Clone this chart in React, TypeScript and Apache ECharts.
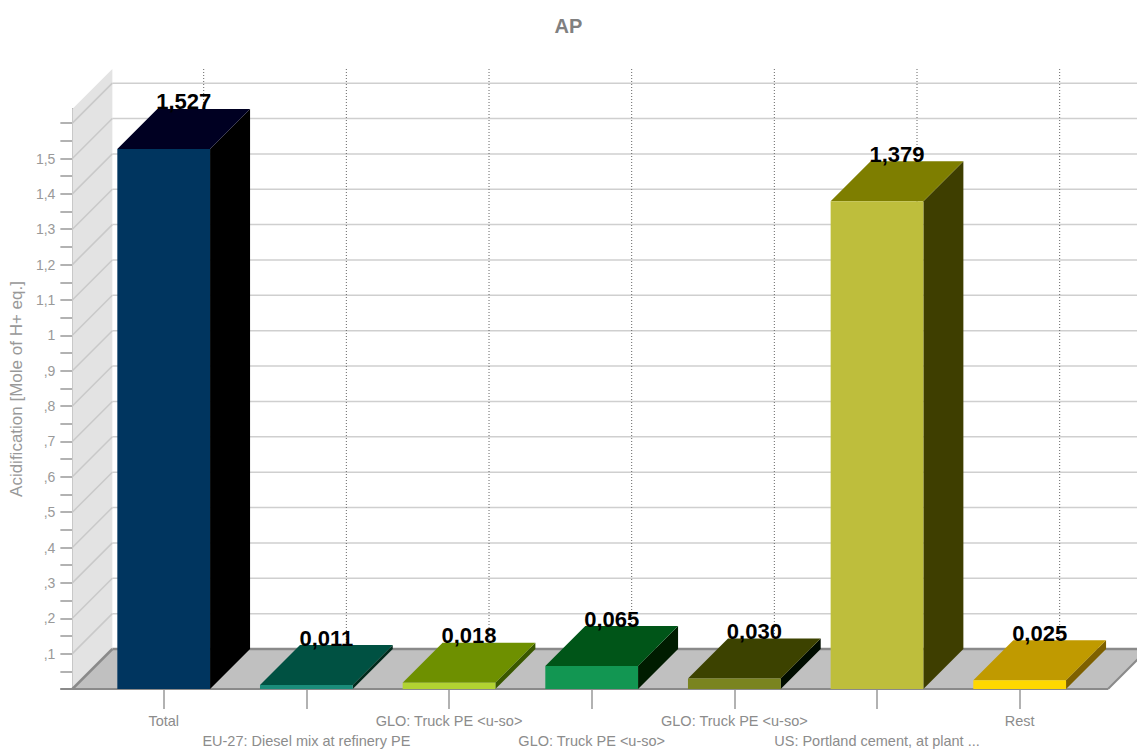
import React, { useEffect, useRef } from "react";
import * as echarts from "echarts";

const titleText = "AP";
const yAxisName = "Acidification [Mole of H+ eq.]";
const categories = [
  "Total",
  "EU-27: Diesel mix at refinery PE",
  "GLO: Truck PE <u-so>",
  "GLO: Truck PE <u-so>",
  "GLO: Truck PE <u-so>",
  "US: Portland cement, at plant ...",
  "Rest",
];
const values = [1.527, 0.011, 0.018, 0.065, 0.03, 1.379, 0.025];
const frontColors = ["#00355f", "#1a8c7a", "#b2d332", "#129652", "#7a8420", "#bebe3c", "#ffd800"];
const topColors = ["#000022", "#005142", "#6e9000", "#005518", "#3c4200", "#7e7e00", "#c09a00"];
const sideColors = ["#000000", "#00291c", "#3a5800", "#001c00", "#000c00", "#3e3e00", "#7e6000"];
const yTickValues = [
  0, 0.05, 0.1, 0.15, 0.2, 0.25, 0.3, 0.35, 0.4, 0.45, 0.5, 0.55, 0.6, 0.65, 0.7, 0.75, 0.8,
  0.85, 0.9, 0.95, 1, 1.05, 1.1, 1.15, 1.2, 1.25, 1.3, 1.35, 1.4, 1.45, 1.5, 1.55, 1.6,
];
const yLabelValues = [0.1, 0.2, 0.3, 0.4, 0.5, 0.6, 0.7, 0.8, 0.9, 1, 1.1, 1.2, 1.3, 1.4, 1.5];
const gridValues = [0.1, 0.2, 0.3, 0.4, 0.5, 0.6, 0.7, 0.8, 0.9, 1, 1.1, 1.2, 1.3, 1.4, 1.5, 1.6];
const Y_MAX = 1.64;

const DEPTH = 40;
const FLOOR_LEFT_PAD = 20;
const FLOOR_RIGHT_PAD = 17;

function fmtAxis(v: number): string {
  const s = String(Math.round(v * 10) / 10);
  return s.replace(/^0\./, ",").replace(".", ",");
}

export default function App() {
  const ref = useRef<HTMLDivElement>(null);
  useEffect(() => {
    if (!ref.current) return;
    const chart = echarts.init(ref.current, undefined, { renderer: "svg" });
    const D = DEPTH;

    const frameRender = (params: any, api: any) => {
      const cs = params.coordSys;
      const x0 = cs.x - FLOOR_LEFT_PAD;
      const x1 = cs.x + cs.width + FLOOR_RIGHT_PAD;
      const yb = api.coord([0, 0])[1];
      const yt = api.coord([0, Y_MAX])[1];
      const children: any[] = [];
      children.push({
        type: "polygon",
        shape: { points: [[x0, yb], [x0 + D, yb - D], [x0 + D, yt - D], [x0, yt]] },
        style: { fill: "#e3e3e3" },
      });
      gridValues.forEach((g) => {
        const y = api.coord([0, g])[1];
        children.push({
          type: "line",
          shape: { x1: x0, y1: y, x2: x0 + D, y2: y - D },
          style: { stroke: "#c9c9c9", lineWidth: 1.5 },
        });
        children.push({
          type: "line",
          shape: { x1: x0 + D, y1: y - D, x2: x1 + D, y2: y - D },
          style: { stroke: "#cfcfcf", lineWidth: 1.5 },
        });
      });
      categories.forEach((_, i) => {
        const x = api.coord([i, 0])[0] + D;
        children.push({
          type: "line",
          shape: { x1: x, y1: yt - D, x2: x, y2: yb - D },
          style: { stroke: "#666666", lineWidth: 1, lineDash: [1, 2] },
        });
      });
      children.push({
        type: "polygon",
        shape: { points: [[x0, yb], [x1, yb], [x1 + D, yb - D], [x0 + D, yb - D]] },
        style: { fill: "#c0c0c0" },
      });
      children.push({
        type: "line",
        shape: { x1: x0 + D, y1: yb - D, x2: x1 + D, y2: yb - D },
        style: { stroke: "#8a8a8a", lineWidth: 2.5 },
      });
      children.push({
        type: "line",
        shape: { x1: x0, y1: yb, x2: x0 + D, y2: yb - D },
        style: { stroke: "#8a8a8a", lineWidth: 2.5 },
      });
      children.push({
        type: "line",
        shape: { x1: x1, y1: yb, x2: x1 + D, y2: yb - D },
        style: { stroke: "#8a8a8a", lineWidth: 2 },
      });
      children.push({
        type: "line",
        shape: { x1: x0 - 12, y1: yb, x2: x1, y2: yb },
        style: { stroke: "#8a8a8a", lineWidth: 2 },
      });
      return { type: "group", children };
    };

    const barRender = (params: any, api: any) => {
      const i = api.value(0);
      const v = api.value(1);
      const top = api.coord([i, v]);
      const base = api.coord([i, 0]);
      const bw = api.size([1, 0])[0] * 0.65;
      const xl = top[0] - bw / 2;
      const xr = top[0] + bw / 2;
      const yt = top[1];
      const yb = base[1];
      return {
        type: "group",
        children: [
          {
            type: "polygon",
            shape: { points: [[xr, yt], [xr + D, yt - D], [xr + D, yb - D], [xr, yb]] },
            style: { fill: sideColors[i] },
          },
          {
            type: "polygon",
            shape: { points: [[xl, yt], [xr, yt], [xr + D, yt - D], [xl + D, yt - D]] },
            style: { fill: topColors[i] },
          },
          {
            type: "rect",
            shape: { x: xl, y: yt, width: bw, height: yb - yt },
            style: { fill: frontColors[i] },
          },
          {
            type: "text",
            x: top[0] + D / 2,
            y: yt - D + 4,
            style: {
              text: values[i].toFixed(3).replace(".", ","),
              fill: "#000000",
              font: "bold 22px Arial, 'Liberation Sans', sans-serif",
              align: "center",
              verticalAlign: "bottom",
            },
          },
        ],
      };
    };

    chart.setOption({
      animation: false,
      backgroundColor: "#ffffff",
      title: {
        text: titleText,
        left: "center",
        top: 11,
        textStyle: { color: "#808080", fontSize: 20, fontWeight: "bold", fontFamily: "Arial, 'Liberation Sans', sans-serif" },
      },
      grid: { left: 90, right: 46, top: 109, bottom: 58, containLabel: false },
      xAxis: {
        type: "category",
        data: categories,
        axisLine: { show: false },
        axisTick: { show: true, alignWithLabel: true, length: 20, lineStyle: { color: "#999999", width: 1.5 } },
        axisLabel: {
          interval: 0,
          margin: 22,
          color: "#8c8c8c",
          fontSize: 14.5,
          fontFamily: "Arial, 'Liberation Sans', sans-serif",
          lineHeight: 20,
          verticalAlign: "top",
          formatter: (val: string, idx: number) => (idx % 2 === 1 ? "\n" + val : val),
        },
        splitLine: { show: false },
      },
      yAxis: {
        type: "value",
        min: 0,
        max: Y_MAX,
        offset: FLOOR_LEFT_PAD,
        name: yAxisName,
        nameLocation: "middle",
        nameGap: 40,
        nameTextStyle: {
          color: "#999999",
          fontSize: 17,
          fontFamily: "Arial, 'Liberation Sans', sans-serif",
          padding: [0, 0, 0, 20],
        },
        axisLine: { show: true, lineStyle: { color: "#999999", width: 2 } },
        axisTick: { show: true, length: 12, customValues: yTickValues, lineStyle: { color: "#999999", width: 1.5 } },
        axisLabel: {
          customValues: yLabelValues,
          margin: 17,
          color: "#999999",
          fontSize: 14,
          fontFamily: "Arial, 'Liberation Sans', sans-serif",
          formatter: (v: number) => fmtAxis(v),
        },
        splitLine: { show: false },
      },
      series: [
        {
          type: "custom",
          name: "frame",
          z: 1,
          silent: true,
          clip: false,
          data: [[0, 0]],
          renderItem: frameRender,
        },
        {
          type: "custom",
          name: "bars",
          z: 3,
          clip: false,
          data: values.map((v, i) => [i, v]),
          renderItem: barRender,
        },
      ],
    });
    return () => chart.dispose();
  }, []);
  return (
    <div
      ref={ref}
      style={{ position: "fixed", left: 0, top: 0, width: 1137, height: 751 }}
    />
  );
}
